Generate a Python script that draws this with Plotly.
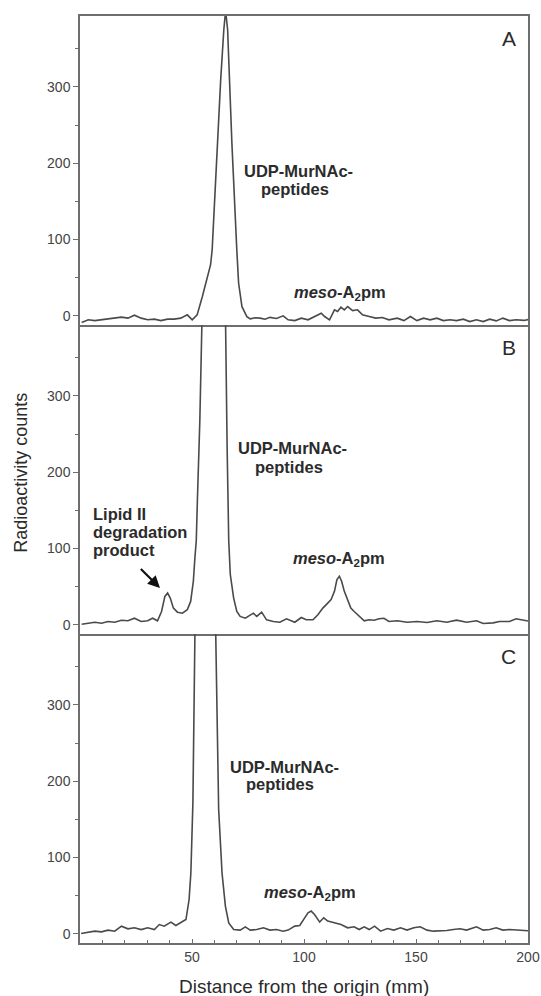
import plotly.graph_objects as go
from plotly.subplots import make_subplots

# Radioactivity scans of the three chromatograms (distance in mm, counts)
dist_a = [0.75, 3.7, 6.6, 9.6, 12.5, 15.5, 18.5, 21.4, 24.3, 27.3, 30.2, 33.2, 36.1, 39.1,
          42.0, 45.0, 47.9, 50.1, 52.3, 54.6, 56.8, 58.3, 59.0, 61.2, 62.8, 64.2, 65.0,
          65.9, 67.8, 70.0, 70.8, 72.3, 74.5, 76.0, 78.2, 80.4, 82.6, 84.8, 87.7, 90.7,
          92.9, 95.9, 98.8, 101.8, 104.7, 107.7, 109.2, 111.4, 113.6, 115.0, 116.5, 118.0,
          119.5, 121.7, 123.9, 126.1, 129.1, 132.0, 135.0, 137.9, 141.6, 144.6, 147.5,
          150.4, 153.4, 156.3, 159.3, 162.2, 165.2, 168.1, 171.1, 174.0, 177.0, 180.0,
          182.9, 185.8, 188.8, 191.7, 194.7, 198.2, 200.0]
counts_a = [-8.8, -5.2, -6.2, -5.2, -4.3, -3.0, -1.7, -3.0, 0.9, -3.0, -5.2, -4.3, -6.2, -4.3,
            -4.3, -3.0, 1.3, -5.2, 1.3, 25, 51.5, 67, 86.5, 227, 309, 375, 400,
            375, 227, 86.5, 43, 12, -1, -4, -2.5, -3, -4.5, -2, -3.5, 0,
            -5.2, -6.2, -3.0, -5.2, -0.9, 3.5, -0.9, -5.2, 7.9, 5.6, 11.4, 7.9,
            12.2, 6.9, 7.9, 1.3, -0.9, -3.0, -2.2, -5.2, -3.0, -6.2, -0.9,
            -6.2, -3.0, -5.2, -3.0, -6.2, -5.2, -6.2, -4.3, -7.5, -5.2, -7.5,
            -4.3, -6.6, -3.0, -6.2, -5.2, -6.0, -5.0]

dist_b = [0.75, 3.7, 6.6, 9.6, 12.5, 15.5, 18.5, 21.4, 24.3, 27.3, 30.2, 32.4, 34.6, 36.4,
          37.9, 39.1, 40.3, 41.7, 43.5, 45.7, 47.9, 49.4, 50.6, 51.3, 51.9, 52.4, 53.5,
          54.4, 55.0, 59.8, 64.6, 65.0, 65.7, 66.4, 67.1, 68.6, 70.0, 71.5, 73.8, 75.2,
          77.4, 78.9, 81.1, 83.3, 86.3, 89.2, 92.2, 95.9, 98.8, 101.0, 104.0, 106.2,
          108.4, 110.6, 112.1, 113.6, 114.7, 115.8, 116.8, 118.0, 119.5, 120.9, 122.4,
          124.6, 126.9, 129.1, 131.3, 133.5, 135.7, 137.9, 141.6, 146.0, 150.4, 154.9,
          159.3, 163.7, 168.1, 172.6, 177.0, 180.0, 184.4, 187.3, 191.7, 194.7, 198.2, 200.0]
counts_b = [0.8, 2.1, 3.4, 2.1, 4.4, 3.4, 6.1, 5.3, 8.7, 4.4, 5.3, 8.7, 5.3, 17.5,
            37.3, 41.7, 35.1, 21.9, 16.6, 15.3, 19.8, 30.7, 57.1, 87.9, 110, 162.7, 268,
            392, 600, 1400, 600, 392, 228.7, 110, 66, 35.1, 17.5, 11, 8.7, 11,
            15.3, 11, 16.6, 6.6, 4.4, 3.4, 7.9, 3.4, 9.6, 6.6, 6.6, 13.2,
            21.9, 28.5, 33, 43.9, 59.4, 63.7, 57.1, 43.9, 33, 21.9, 17.5,
            11, 5.3, 6.6, 6.1, 7.9, 8.7, 4.4, 5.3, 3.4, 4.4, 3.0,
            5.3, 3.4, 6.1, 3.4, 5.3, 1.7, 2.6, 4.4, 4.4, 7.9, 5.7, 5.0]

dist_c = [0.5, 3.7, 6.6, 9.6, 12.5, 15.5, 18.5, 21.4, 24.3, 27.3, 30.2, 33.2, 35.4, 37.6,
          40.6, 42.8, 45.1, 47.3, 48.7, 49.5, 50.4, 51.3, 51.8, 56.0, 60.2, 60.6, 61.9,
          63.4, 64.9, 66.4, 68.6, 71.5, 73.8, 76.0, 78.9, 81.9, 84.8, 87.7, 90.7, 92.9,
          95.9, 98.1, 100.3, 101.8, 103.2, 104.7, 107.0, 108.8, 110.6, 113.6, 116.5,
          119.5, 122.4, 124.6, 126.9, 129.1, 131.5, 134.2, 137.2, 140.1, 143.1, 146.0,
          149.0, 151.9, 154.9, 157.8, 160.8, 163.7, 166.7, 169.6, 172.6, 177.0, 180.0,
          182.9, 185.8, 188.8, 191.7, 194.7, 198.2, 200.0]
counts_c = [0.5, 2.2, 3.5, 2.6, 4.9, 3.5, 10.1, 6.6, 7.9, 5.6, 7.9, 5.6, 12.2, 10.1,
            15.4, 10.9, 14.4, 18.8, 45, 80, 172, 392, 600, 1400, 600, 392, 163,
            80, 36.4, 14.4, 5.6, 4.9, 9.2, 4.9, 5.6, 7.9, 4.9, 5.6, 3.5, 4.9,
            10.1, 10.9, 21, 27.6, 29.8, 25.3, 15.4, 21, 16.7, 14.4, 12.2,
            7.9, 9.2, 5.6, 9.2, 5.6, 10.1, 3.5, 7, 4.9, 7.9, 4.9,
            7.9, 9.2, 4.9, 3.5, 3.5, 4.4, 5.6, 6.6, 4.9, 9.2, 4.9,
            5.6, 7.9, 4.9, 5.6, 4.9, 3.9, 4.0]

panel_letters = ["A", "B", "C"]
y_ticks = [0, 100, 200, 300]
x_ticks = [50, 100, 150, 200]

FONT = "Liberation Sans, Arial, sans-serif"
LINE = "#4a4a4a"
AXIS = "#6e6e6e"
TEXT = "#2b2b2b"

fig = make_subplots(rows=3, cols=1, shared_xaxes=True, vertical_spacing=0)

for row, (xs, ys) in enumerate([(dist_a, counts_a), (dist_b, counts_b), (dist_c, counts_c)], start=1):
    fig.add_trace(go.Scatter(x=xs, y=ys, mode="lines",
                             line=dict(color=LINE, width=1.6),
                             showlegend=False, hoverinfo="skip"), row=row, col=1)

for row in range(1, 4):
    fig.update_yaxes(range=[-12, 393], tickvals=y_ticks, ticks="outside", ticklen=5,
                     tickcolor=AXIS, tickwidth=1.2,
                     minor=dict(dtick=50, ticks="outside", ticklen=3, tickcolor=AXIS),
                     showline=True, linecolor=AXIS, linewidth=1.5, mirror=True,
                     showgrid=False, zeroline=False, automargin=False,
                     tickfont=dict(family=FONT, size=14, color="#444"),
                     row=row, col=1)
    # only the top panel draws its upper edge; the others share the line above them
    fig.update_xaxes(range=[0, 200], showline=True, linecolor=AXIS, linewidth=1.5,
                     mirror=(row == 1), showgrid=False, zeroline=False, automargin=False,
                     row=row, col=1)

fig.update_xaxes(tickvals=x_ticks, ticks="inside", ticklen=4, tickcolor=AXIS,
                 minor=dict(dtick=10, ticks="inside", ticklen=3, tickcolor=AXIS),
                 tickfont=dict(family=FONT, size=14, color="#444"),
                 ticklabeloverflow="allow",
                 row=3, col=1)
fig.update_xaxes(showticklabels=False, ticks="", row=1, col=1)
fig.update_xaxes(showticklabels=False, ticks="", row=2, col=1)

ann = []


def label(text, x, y, ref, size=16.5, anchor="center", bold=True):
    ann.append(dict(text=f"<b>{text}</b>" if bold else text, x=x, y=y,
                    xref=f"x{ref}" if ref > 1 else "x", yref=f"y{ref}" if ref > 1 else "y",
                    xanchor=anchor, yanchor="middle", showarrow=False,
                    font=dict(family=FONT, size=size, color=TEXT)))


# Panel letters
for ref, letter in enumerate(panel_letters, start=1):
    label(letter, 191.5, 363, ref, size=21, bold=False)

# Peak labels
label("UDP-MurNAc-", 97.7, 190, 1)
label("peptides", 95.9, 166, 1)
label("<i>meso</i>-A<sub>2</sub>pm", 116.2, 29.7, 1)

label("UDP-MurNAc-", 94.8, 231.7, 2)
label("peptides", 93.5, 207.5, 2)
label("<i>meso</i>-A<sub>2</sub>pm", 115.4, 85.8, 2)
label("Lipid II", 5.1, 145.9, 2, anchor="left")
label("degradation", 5.1, 121.8, 2, anchor="left")
label("product", 5.1, 97.6, 2, anchor="left")

label("UDP-MurNAc-", 91.3, 219, 3)
label("peptides", 89.5, 196, 3)
label("<i>meso</i>-A<sub>2</sub>pm", 102.7, 53.8, 3)

# Arrow to the lipid II degradation product
ann.append(dict(x=35.7, y=48.3, ax=26.5, ay=75.2, xref="x2", yref="y2",
                axref="x2", ayref="y2", text="", showarrow=True,
                arrowhead=2, arrowsize=1.1, arrowwidth=2.2, arrowcolor="#111"))

# Axis titles
ann.append(dict(text="Radioactivity counts", x=-0.131, y=0.5076, xref="paper", yref="paper",
                xanchor="center", yanchor="middle", textangle=-90, showarrow=False,
                font=dict(family=FONT, size=18, color=TEXT)))
ann.append(dict(text="Distance from the origin (mm)", x=0.5, y=-0.0471, xref="paper",
                yref="paper", xanchor="center", yanchor="middle", showarrow=False,
                font=dict(family=FONT, size=19, color=TEXT)))

fig.update_layout(width=541, height=996, margin=dict(l=80, r=13, t=16, b=53),
                  plot_bgcolor="white", paper_bgcolor="white", annotations=ann)

fig.write_html("out.html")
